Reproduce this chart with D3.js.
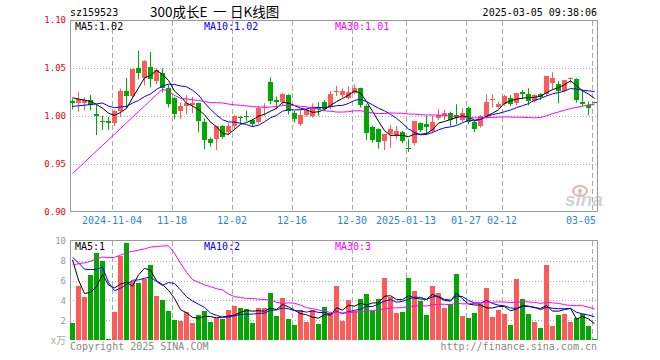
<!DOCTYPE html>
<html>
<head>
<meta charset="utf-8">
<script src="https://cdn.jsdelivr.net/npm/d3@7"></script>
<style>
body { margin:0; background:#fff; }
svg { display:block; font-family:"DejaVu Sans Mono", monospace; }
</style>
</head>
<body>
<svg id="chart" width="660" height="360"></svg>
<script>
// DATA //

const dates = ["2024-10-24","2024-10-25","2024-10-28","2024-10-29","2024-10-30","2024-10-31","2024-11-01","2024-11-04","2024-11-05","2024-11-06",
    "2024-11-07","2024-11-08","2024-11-11","2024-11-12","2024-11-13","2024-11-14","2024-11-15","2024-11-18","2024-11-19","2024-11-20",
    "2024-11-21","2024-11-22","2024-11-25","2024-11-26","2024-11-27","2024-11-28","2024-11-29","2024-12-02","2024-12-03","2024-12-04",
    "2024-12-05","2024-12-06","2024-12-09","2024-12-10","2024-12-11","2024-12-12","2024-12-13","2024-12-16","2024-12-17","2024-12-18",
    "2024-12-19","2024-12-20","2024-12-23","2024-12-24","2024-12-25","2024-12-26","2024-12-27","2024-12-30","2024-12-31","2025-01-02",
    "2025-01-03","2025-01-06","2025-01-07","2025-01-08","2025-01-09","2025-01-10","2025-01-13","2025-01-14","2025-01-15","2025-01-16",
    "2025-01-17","2025-01-20","2025-01-21","2025-01-22","2025-01-23","2025-01-24","2025-01-27","2025-02-05","2025-02-06","2025-02-07",
    "2025-02-10","2025-02-11","2025-02-12","2025-02-13","2025-02-14","2025-02-17","2025-02-18","2025-02-19","2025-02-20","2025-02-21",
    "2025-02-24","2025-02-25","2025-02-26","2025-02-27","2025-02-28","2025-03-03","2025-03-04","2025-03-05"]

const open = [1.016,1.0135,1.0135,1.0167,1.002,0.9952,0.9945,0.9924,1.0052,1.026,
    1.0211,1.050,1.040,1.0507,1.0368,1.0445,1.0289,1.0188,1.0052,1.0098,
    1.011,1.0132,0.9941,0.9762,0.976,0.9896,0.983,0.9896,0.9993,0.9997,
    0.9962,0.9941,1.0087,1.0351,1.0167,1.0143,1.0219,1.0035,0.9914,1.001,
    1.0003,1.0098,1.015,1.0098,1.025,1.0219,1.0191,1.0247,1.0295,1.0108,
    0.9889,0.9865,0.9733,0.981,0.9796,0.983,0.967,0.9716,0.9924,0.9914,
    0.9844,0.9976,0.9993,1.0028,1.001,0.9958,1.0087,0.9941,0.99,1.0003,
    1.0174,1.0098,1.0125,1.0191,1.0132,1.0247,1.0226,1.0157,1.0226,1.0226,
    1.0341,1.033,1.0261,1.0393,1.0386,1.0143,1.0115,1.0145]

const high = [1.018,1.025,1.0195,1.0219,1.0115,1.0003,0.999,1.0063,1.0285,1.0396,
    1.049,1.0681,1.058,1.0667,1.0497,1.0497,1.0323,1.0198,1.0143,1.0219,
    1.02,1.014,0.9975,0.9776,0.9896,0.9907,0.9924,1.001,0.9997,1.0052,
    0.9969,1.0104,1.0132,1.0403,1.0202,1.0236,1.0226,1.0052,1.0063,1.0087,
    1.0132,1.0143,1.0167,1.0261,1.0316,1.0288,1.0306,1.033,1.0295,1.0122,
    0.99,0.9872,0.981,0.9907,0.9896,0.9844,0.9757,0.9948,0.9934,1.0003,
    1.0003,1.0073,1.0063,1.0045,1.0122,1.008,1.0098,0.9948,1.001,1.0226,
    1.0226,1.015,1.0219,1.0219,1.0236,1.0271,1.0288,1.0226,1.0236,1.0417,
    1.0455,1.0365,1.0375,1.0403,1.0393,1.0271,1.015,1.0145]

const low = [1.008,1.0055,1.007,1.007,0.9813,0.9865,0.9865,0.9903,1.0,1.0097,
    1.02,1.0393,1.033,1.031,1.034,1.0254,1.0098,0.9976,0.9976,1.0028,
    1.004,0.984,0.9663,0.9692,0.9656,0.9775,0.981,0.9872,0.9924,0.9955,
    0.9896,0.9931,1.001,1.0132,1.008,1.0122,1.0028,0.9941,0.9907,1.0003,
    0.9993,1.001,1.0063,1.008,1.0219,1.0202,1.0184,1.0236,1.0098,0.9761,
    0.9733,0.9671,0.9657,0.9681,0.9768,0.9726,0.9636,0.9705,0.9844,0.981,
    0.983,0.9969,0.9969,0.9907,0.9924,0.9948,0.9924,0.9844,0.9889,0.9983,
    1.0098,1.0091,1.0115,1.0115,1.0122,1.0185,1.0122,1.015,1.0177,1.0219,
    1.0288,1.0143,1.0254,1.0351,1.015,1.0115,1.0018,1.0142]

const close = [1.014,1.018,1.017,1.011,1.0,0.9945,0.9924,1.0052,1.0264,1.0212,
    1.049,1.0445,1.0575,1.0386,1.048,1.0289,1.0122,1.0021,1.0105,1.0132,
    1.0135,0.9941,0.9751,0.9722,0.9896,0.9785,0.9896,1.0,0.999,0.999,
    0.9924,1.0087,1.0098,1.015,1.0143,1.023,1.0052,0.9969,1.001,1.0063,
    1.0098,1.008,1.008,1.023,1.026,1.0264,1.0254,1.0295,1.0115,0.983,
    0.975,0.9733,0.981,0.9865,0.9844,0.974,0.9664,0.9948,0.9855,0.9879,
    0.9941,1.001,1.0028,0.9958,0.9983,1.0028,0.9941,0.9872,1.0003,1.015,
    1.0177,1.0125,1.0209,1.0132,1.0236,1.0226,1.0157,1.0219,1.0191,1.0417,
    1.0393,1.0254,1.0375,1.0396,1.0167,1.0122,1.0087,1.0142]

// volume in 万 (x万)
const volume = [1.75,5.45,4.37,6.57,8.79,8.01,0.07,2.86,8.48,9.8,
    5.96,5.79,6.13,7.58,4.44,4.04,2.93,2.02,1.92,2.83,
    1.72,2.53,2.93,1.85,2.19,2.09,3.03,3.43,3.23,3.13,
    1.75,3.23,3.23,4.75,2.42,4.24,2.12,1.52,3.03,1.82,
    3.03,1.62,3.33,2.77,5.45,1.95,4.04,2.93,4.14,4.65,
    2.93,4.14,6.26,4.38,2.73,2.83,6.26,4.95,3.94,2.53,
    5.45,4.78,3.23,3.64,6.67,2.42,2.22,2.73,3.64,5.25,
    2.32,3.03,2.63,1.52,6.16,4.14,2.63,1.82,1.21,7.58,
    1.41,2.53,2.63,1.82,2.22,2.63,1.41,0.1]

// sessions before the window, only used to feed the moving averages
const preClose = [0.842,0.841,0.835,0.824,0.819,0.816,0.829,0.850,0.845,0.873,0.869,0.882,0.863,0.872,0.853,
    1.085,1.125,1.104,1.030,1.044,1.012,1.010,1.005,0.993,0.985,1.025,1.022,1.018,1.016]
const preVolume = [1.6,1.8,2.0,1.7,1.9,2.2,1.8,2.1,1.9,2.0,2.4,2.3,2.1,2.5,2.6,2.0,
    25,32,30,24,11,10.8,7,8.5,5.7,15.65,11.17,6,5.93]

const tickDates = ["2024-11-04","2024-11-18","2024-12-02","2024-12-16","2024-12-30","2025-01-13","2025-01-27","2025-02-12","2025-03-05"]
const tickLabels = ["2024-11-04","11-18","12-02","12-16","12-30","2025-01-13","01-27","02-12","03-05"]
const priceTicks = [0.90, 0.95, 1.00, 1.05, 1.10]
const volumeTicks = [2, 4, 6, 8, 10]
const maPeriods = [5, 10, 30]
const maColors = ["#000000", "#0000ff", "#ff00ff"]
const priceLegend = ["MA5:1.02", "MA10:1.02", "MA30:1.01"]
const volumeLegend = ["MA5:1", "MA10:2", "MA30:3"]

// HELPERS //

function movingAverage(prev, values, n){
    const all = prev.concat(values)
    return values.map((v, i) => {
        const end = prev.length + i + 1
        return d3.mean(all.slice(end - n, end))
    })
}

function isUp(i){
    return close[i] >= open[i]
}

// DRAW //

const up = "#ff5a5a"
const down = "#00a800"
const gridColor = "#aaaaaa"
const borderColor = "#999999"

const svg = d3.select('#chart')

const left = 70, right = 597
const x = d3.scaleBand().domain(dates).range([left, right]).paddingInner(1/6).paddingOuter(0)
const y = d3.scaleLinear().domain([0.90, 1.10]).range([212, 20])
const yv = d3.scaleLinear().domain([0, 10]).range([340, 241])
const cx = (d) => x(d) + x.bandwidth() / 2

// header
svg.append('text').attr('x', 70).attr('y', 16).attr('font-size', 10).text('sz159523')
const title = svg.append('g').attr('font-family', '"Noto Sans CJK SC", sans-serif').attr('font-size', 13.5)
title.append('text').attr('x', 150).attr('y', 16.5).text('300成长E')
title.append('text').attr('x', 213).attr('y', 16.5).text('一')
title.append('text').attr('x', 230).attr('y', 16.5).text('日K线图')
svg.append('text').attr('x', 597).attr('y', 16).attr('font-size', 10).attr('text-anchor', 'end')
    .text('2025-03-05 09:38:06')

// grid: horizontal dotted
svg.append('g').selectAll('line')
    .data(priceTicks.slice(1, -1))
    .enter().append('line')
    .attr('x1', left).attr('x2', right)
    .attr('y1', d => Math.round(y(d)) + 0.5).attr('y2', d => Math.round(y(d)) + 0.5)
    .attr('stroke', gridColor).attr('stroke-dasharray', '1,2')

svg.append('g').selectAll('line')
    .data(volumeTicks.slice(0, -1))
    .enter().append('line')
    .attr('x1', left).attr('x2', right)
    .attr('y1', d => Math.round(yv(d)) + 0.5).attr('y2', d => Math.round(yv(d)) + 0.5)
    .attr('stroke', gridColor).attr('stroke-dasharray', '1,2')

// grid: vertical dashed at date ticks
const vgrid = svg.append('g')
vgrid.selectAll('.vmain')
    .data(tickDates)
    .enter().append('line')
    .attr('x1', d => x(d) + 0.5).attr('x2', d => x(d) + 0.5)
    .attr('y1', 21).attr('y2', 211)
    .attr('stroke', gridColor).attr('stroke-dasharray', '5,3')
vgrid.selectAll('.vvol')
    .data(tickDates)
    .enter().append('line')
    .attr('x1', d => x(d) + 0.5).attr('x2', d => x(d) + 0.5)
    .attr('y1', 241).attr('y2', 340)
    .attr('stroke', gridColor).attr('stroke-dasharray', '5,3')

// frames
svg.append('path')
    .attr('d', `M${left + 0.5},211.5V20.5H${right + 0.5}V211.5H${left + 0.5}`)
    .attr('fill', 'none').attr('stroke', borderColor)
svg.append('path')
    .attr('d', `M${left + 0.5},340V240.5H${right + 0.5}V340`)
    .attr('fill', 'none').attr('stroke', borderColor)

// sina watermark
const mark = svg.append('g').attr('opacity', 0.55)
mark.append('ellipse').attr('cx', 580).attr('cy', 191).attr('rx', 7).attr('ry', 5)
    .attr('fill', 'none').attr('stroke', '#d07070').attr('stroke-width', 2)
mark.append('circle').attr('cx', 580).attr('cy', 191).attr('r', 2).attr('fill', '#d07070')
mark.append('text').attr('x', 565).attr('y', 206).attr('font-size', 19)
    .attr('font-family', '"Liberation Sans", sans-serif').attr('font-style', 'italic').attr('font-weight', 'bold')
    .attr('fill', '#b0b0b0').text('sina')

// axes
const yAxis = svg.append('g')
    .attr('transform', `translate(${left},0)`)
    .call(d3.axisLeft(y).tickValues(priceTicks).tickFormat(d3.format('.2f')).tickSize(0).tickPadding(4))
yAxis.select('.domain').remove()
yAxis.selectAll('text').attr('fill', '#ee0000').attr('font-size', 9).attr('font-family', '"DejaVu Sans Mono", monospace')

const vAxis = svg.append('g')
    .attr('transform', `translate(${left},0)`)
    .call(d3.axisLeft(yv).tickValues(volumeTicks).tickFormat(d3.format('d')).tickSize(0).tickPadding(4))
vAxis.select('.domain').remove()
vAxis.selectAll('text').attr('fill', '#999999').attr('font-size', 9).attr('font-family', '"DejaVu Sans Mono", monospace')
svg.append('text').attr('x', 66).attr('y', 344).attr('text-anchor', 'end')
    .attr('font-size', 10).attr('fill', '#aaaaaa').attr('font-family', '"Noto Sans CJK SC", sans-serif').text('x万')

const lastTick = tickDates[tickDates.length - 1]
const xAxis = svg.append('g')
    .attr('transform', `translate(${-x.bandwidth() / 2},212)`)
    .call(d3.axisBottom(x).tickValues(tickDates).tickFormat((d, i) => tickLabels[i]).tickSize(0).tickPadding(5))
xAxis.select('.domain').remove()
xAxis.selectAll('text').attr('fill', '#2a88d0').attr('font-size', 10).attr('font-family', '"DejaVu Sans Mono", monospace')
xAxis.selectAll('.tick').filter(d => d === lastTick)
    .select('text').attr('text-anchor', 'end').attr('x', right - 1 - x(lastTick))

// candles
const candles = svg.append('g')
candles.selectAll('line')
    .data(dates)
    .enter().append('line')
    .attr('x1', d => cx(d)).attr('x2', d => cx(d))
    .attr('y1', (d, i) => y(high[i])).attr('y2', (d, i) => y(low[i]) + 1)
    .attr('stroke', (d, i) => isUp(i) ? up : down)
candles.selectAll('rect')
    .data(dates)
    .enter().append('rect')
    .attr('x', d => x(d))
    .attr('width', x.bandwidth())
    .attr('y', (d, i) => Math.round(y(Math.max(open[i], close[i]))))
    .attr('height', (d, i) => Math.max(1, Math.round(Math.abs(y(open[i]) - y(close[i])))))
    .attr('fill', (d, i) => isUp(i) ? up : down)
    .attr('shape-rendering', 'crispEdges')

// volume bars
svg.append('g').selectAll('rect')
    .data(dates)
    .enter().append('rect')
    .attr('x', d => x(d))
    .attr('width', x.bandwidth())
    .attr('y', (d, i) => Math.round(yv(volume[i])))
    .attr('height', (d, i) => Math.max(1, 340 - Math.round(yv(volume[i]))))
    .attr('fill', (d, i) => isUp(i) ? up : down)
    .attr('shape-rendering', 'crispEdges')

// moving averages
maPeriods.forEach((n, k) => {
    const pma = movingAverage(preClose, close, n)
    const vma = movingAverage(preVolume, volume, n)
    svg.append('path')
        .datum(pma)
        .attr('d', d3.line().x((d, i) => cx(dates[i])).y(d => y(d)))
        .attr('fill', 'none').attr('stroke', maColors[k]).attr('stroke-width', 1)
    svg.append('path')
        .datum(vma)
        .attr('d', d3.line().x((d, i) => cx(dates[i])).y(d => yv(d)))
        .attr('fill', 'none').attr('stroke', maColors[k]).attr('stroke-width', 1)
})

// legends
const legendX = [75, 204, 335]
priceLegend.forEach((t, k) => {
    svg.append('text').attr('x', legendX[k]).attr('y', 30).attr('font-size', 10)
        .attr('fill', maColors[k]).text(t)
})
volumeLegend.forEach((t, k) => {
    svg.append('text').attr('x', legendX[k]).attr('y', 250).attr('font-size', 10)
        .attr('fill', maColors[k]).text(t)
})

// footer
svg.append('text').attr('x', 70).attr('y', 350).attr('font-size', 10).attr('fill', '#888888')
    .text('Copyright 2025 SINA.COM')
svg.append('text').attr('x', 597).attr('y', 350).attr('font-size', 10).attr('fill', '#888888')
    .attr('text-anchor', 'end').text('http://finance.sina.com.cn')
</script>
</body>
</html>
